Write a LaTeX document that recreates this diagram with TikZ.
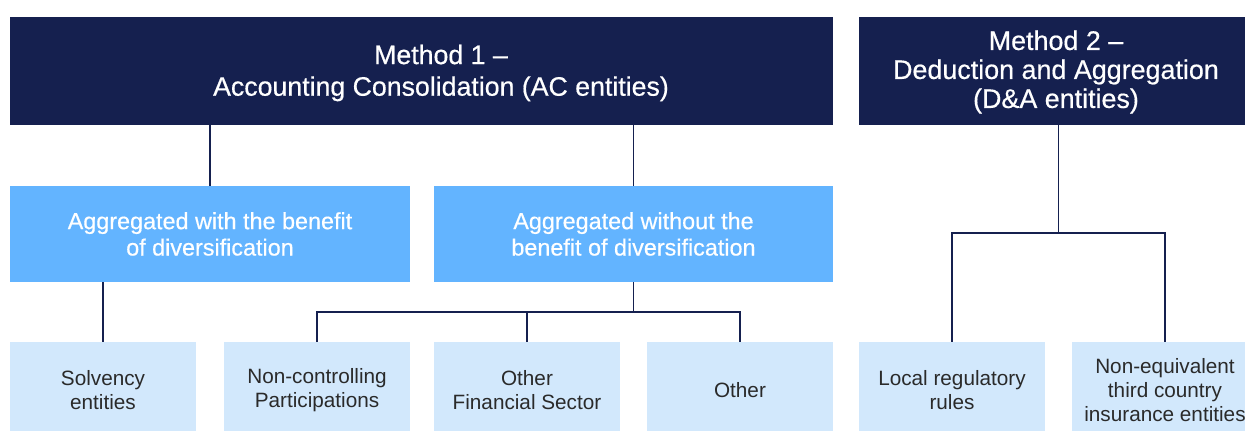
\documentclass[tikz,border=0pt]{standalone}
\usepackage{fontspec}
\setmainfont{Liberation Sans}
\newfontfamily\medfont[FakeBold=0.5,Ligatures=TeX]{Liberation Sans}
\usepackage{tikz}

\definecolor{navy}{HTML}{15204F}
\definecolor{midblue}{HTML}{63B4FF}
\definecolor{paleblue}{HTML}{D2E8FC}
\definecolor{inktext}{HTML}{2A2A2A}

\tikzset{
  method/.style={fill=navy, minimum height=2.16cm, inner sep=0pt},
  methodtext/.style={text=white, align=center, inner sep=0pt},
  aggbox/.style={fill=midblue, text=white, minimum width=8cm, minimum height=1.92cm,
    align=center, inner sep=0pt, font=\medfont\fontsize{13.3}{15}\selectfont},
  leafbox/.style={fill=paleblue, text=inktext, minimum width=3.72cm, minimum height=1.92cm,
    align=center, inner sep=0pt, font=\fontsize{11.8}{13.6}\selectfont},
  link/.style={draw=navy, line width=0.8pt}
}

\begin{document}
\begin{tikzpicture}[x=0.02cm, y=-0.02cm]
\useasboundingbox (0,0) rectangle (1245,431);
\clip (0,0) rectangle (1245,431);

% top level
\node[method, minimum width=16.46cm] (m1) at (421.5,71) {};
\node[methodtext, font=\medfont\fontsize{15.2}{18}\selectfont] (m1t) at (441,73)
  {Method 1 \textendash\\Accounting Consolidation (AC entities)};
\node[method, minimum width=7.98cm] (m2) at (1058.5,71) {};
\node[methodtext, font=\medfont\fontsize{15.3}{16.5}\selectfont] (m2t) at (1056,72)
  {Method 2 \textendash\\Deduction and Aggregation\\(D\&A entities)};

% second level
\node[aggbox] (with) at (210,234) {Aggregated with the benefit\\of diversification};
\node[aggbox] (without) at (633.5,234) {Aggregated without the\\benefit of diversification};

% leaves
\node[leafbox] (solv) at (103,390) {Solvency\\entities};
\node[leafbox] (noncon) at (317,390) {Non-controlling\\Participations};
\node[leafbox] (ofs) at (527,390) {Other\\Financial Sector};
\node[leafbox] (other) at (740,390) {Other};
\node[leafbox] (local) at (952,390) {Local regulatory\\rules};
\node[leafbox] (noneq) at (1165,390) {Non-equivalent\\third country\\insurance entities};

\coordinate (split1) at (633.5,312);
\coordinate (split2) at (1058.5,233);

\draw[link] (m1.south -| with.north) -- (with.north);
\draw[link] (m1.south -| without.north) -- (without.north);
\draw[link] (with.south -| solv.north) -- (solv.north);
\draw[link] (without.south) -- (split1);
\draw[link] (split1) -| (noncon.north);
\draw[link] (split1) -| (other.north);
\draw[link] (split1 -| ofs.north) -- (ofs.north);
\draw[link] (m2.south) -- (split2);
\draw[link] (split2) -| (local.north);
\draw[link] (split2) -| (noneq.north);

\end{tikzpicture}
\end{document}
